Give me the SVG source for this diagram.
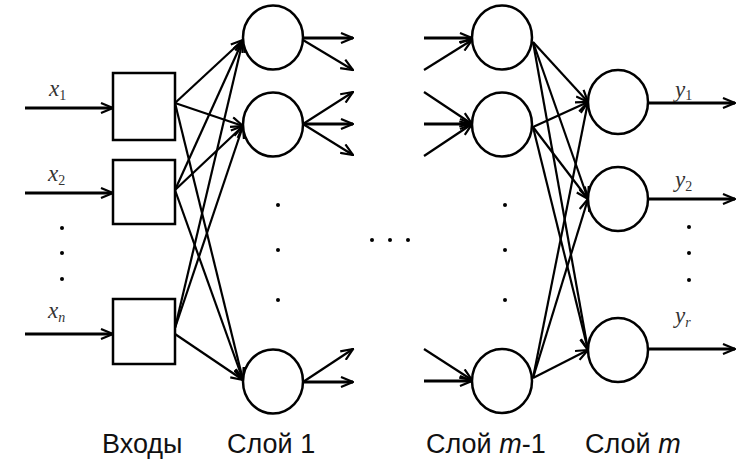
<svg xmlns="http://www.w3.org/2000/svg" width="750" height="476" viewBox="0 0 750 476">
<style>
.ln{stroke:#000;stroke-width:2.2;fill:none}
.th{stroke:#000;stroke-width:2.8;fill:none}
.nd{stroke:#000;stroke-width:2.5;fill:#fff}
.lab{font-family:"Liberation Sans",Arial,sans-serif;font-size:27px;fill:#111}
.var{font-family:"Liberation Serif","Times New Roman",serif;font-style:italic;font-size:23px;fill:#333}
.sub{font-family:"Liberation Serif","Times New Roman",serif;font-size:14px;fill:#333}
.dot{fill:#000}
</style>
<defs>
<marker id="ah" viewBox="0 0 14 12" refX="13" refY="6" markerWidth="14" markerHeight="12" markerUnits="userSpaceOnUse" orient="auto">
<path d="M1,1 L13,6 L1,11" fill="none" stroke="#000" stroke-width="2.2"/>
</marker>
</defs>
<g id="connectors">
<line class="th" x1="25" y1="108" x2="113" y2="108" marker-end="url(#ah)"/>
<line class="th" x1="25" y1="193" x2="113" y2="193" marker-end="url(#ah)"/>
<line class="th" x1="25" y1="334" x2="113" y2="334" marker-end="url(#ah)"/>
<line class="ln" x1="175" y1="103" x2="243" y2="40" marker-end="url(#ah)"/>
<line class="ln" x1="175" y1="103" x2="243" y2="126" marker-end="url(#ah)"/>
<line class="ln" x1="175" y1="103" x2="243" y2="380" marker-end="url(#ah)"/>
<line class="ln" x1="175" y1="190" x2="243" y2="40" marker-end="url(#ah)"/>
<line class="ln" x1="175" y1="190" x2="243" y2="126" marker-end="url(#ah)"/>
<line class="ln" x1="175" y1="190" x2="243" y2="380" marker-end="url(#ah)"/>
<line class="ln" x1="175" y1="328" x2="243" y2="40" marker-end="url(#ah)"/>
<line class="ln" x1="175" y1="328" x2="243" y2="126" marker-end="url(#ah)"/>
<line class="ln" x1="175" y1="334" x2="243" y2="380" marker-end="url(#ah)"/>
<line class="th" x1="303" y1="38" x2="353" y2="38" marker-end="url(#ah)"/>
<line class="ln" x1="303" y1="40" x2="353" y2="70" marker-end="url(#ah)"/>
<line class="ln" x1="303" y1="124" x2="353" y2="92" marker-end="url(#ah)"/>
<line class="th" x1="303" y1="124" x2="353" y2="124" marker-end="url(#ah)"/>
<line class="ln" x1="303" y1="124" x2="353" y2="155" marker-end="url(#ah)"/>
<line class="ln" x1="303" y1="382" x2="353" y2="349" marker-end="url(#ah)"/>
<line class="th" x1="303" y1="382" x2="353" y2="382" marker-end="url(#ah)"/>
<line class="th" x1="424" y1="38" x2="472" y2="38" marker-end="url(#ah)"/>
<line class="ln" x1="424" y1="70" x2="472" y2="40" marker-end="url(#ah)"/>
<line class="ln" x1="424" y1="92" x2="472" y2="124" marker-end="url(#ah)"/>
<line class="th" x1="424" y1="124" x2="472" y2="124" marker-end="url(#ah)"/>
<line class="ln" x1="424" y1="156" x2="472" y2="124" marker-end="url(#ah)"/>
<line class="ln" x1="424" y1="349" x2="472" y2="380" marker-end="url(#ah)"/>
<line class="th" x1="424" y1="381" x2="472" y2="381" marker-end="url(#ah)"/>
<line class="ln" x1="533" y1="42" x2="588" y2="102" marker-end="url(#ah)"/>
<line class="ln" x1="533" y1="42" x2="588" y2="199" marker-end="url(#ah)"/>
<line class="ln" x1="533" y1="42" x2="588" y2="350" marker-end="url(#ah)"/>
<line class="ln" x1="533" y1="127" x2="588" y2="102" marker-end="url(#ah)"/>
<line class="ln" x1="533" y1="127" x2="588" y2="199" marker-end="url(#ah)"/>
<line class="ln" x1="533" y1="127" x2="588" y2="350" marker-end="url(#ah)"/>
<line class="ln" x1="533" y1="378" x2="588" y2="102" marker-end="url(#ah)"/>
<line class="ln" x1="533" y1="378" x2="588" y2="199" marker-end="url(#ah)"/>
<line class="ln" x1="533" y1="378" x2="588" y2="350" marker-end="url(#ah)"/>
<line class="th" x1="648" y1="103" x2="735" y2="103" marker-end="url(#ah)"/>
<line class="th" x1="648" y1="199" x2="735" y2="199" marker-end="url(#ah)"/>
<line class="th" x1="648" y1="349" x2="735" y2="349" marker-end="url(#ah)"/>
</g>
<g id="in1"><rect class="nd" x="113" y="73" width="62" height="67"/></g>
<g id="in2"><rect class="nd" x="113" y="160" width="62" height="64"/></g>
<g id="inn"><rect class="nd" x="113" y="299" width="62" height="65"/></g>
<g id="l1n1"><ellipse class="nd" cx="273" cy="37.5" rx="30" ry="32"/></g>
<g id="l1n2"><ellipse class="nd" cx="273" cy="124.5" rx="30" ry="32"/></g>
<g id="l1n3"><ellipse class="nd" cx="273" cy="381.5" rx="30" ry="32"/></g>
<g id="lm1n1"><ellipse class="nd" cx="502" cy="37.5" rx="30" ry="32"/></g>
<g id="lm1n2"><ellipse class="nd" cx="502" cy="124.5" rx="30" ry="32"/></g>
<g id="lm1n3"><ellipse class="nd" cx="502" cy="381" rx="30" ry="32"/></g>
<g id="lmn1"><ellipse class="nd" cx="618" cy="102" rx="30" ry="32"/></g>
<g id="lmn2"><ellipse class="nd" cx="618" cy="199" rx="30" ry="32"/></g>
<g id="lmn3"><ellipse class="nd" cx="618" cy="350" rx="30" ry="32"/></g>
<g id="dots">
<circle class="dot" cx="62" cy="228" r="2"/><circle class="dot" cx="62" cy="253" r="2"/><circle class="dot" cx="62" cy="279" r="2"/>
<circle class="dot" cx="278" cy="205" r="2"/><circle class="dot" cx="278" cy="250" r="2"/><circle class="dot" cx="278" cy="300" r="2"/>
<circle class="dot" cx="505" cy="205" r="2"/><circle class="dot" cx="505" cy="250" r="2"/><circle class="dot" cx="505" cy="300" r="2"/>
<circle class="dot" cx="372" cy="240" r="2"/><circle class="dot" cx="390" cy="240" r="2"/><circle class="dot" cx="408" cy="240" r="2"/>
<circle class="dot" cx="689" cy="227" r="2"/><circle class="dot" cx="689" cy="253" r="2"/><circle class="dot" cx="689" cy="280" r="2"/>
</g>
<g id="labels">
<text class="var" x="49" y="96">x<tspan class="sub" dy="4" font-style="normal">1</tspan></text>
<text class="var" x="48" y="181">x<tspan class="sub" dy="4" font-style="normal">2</tspan></text>
<text class="var" x="48" y="318">x<tspan class="sub" dy="4">n</tspan></text>
<text class="var" x="675" y="97">y<tspan class="sub" dy="3" font-style="normal">1</tspan></text>
<text class="var" x="675" y="187">y<tspan class="sub" dy="4" font-style="normal">2</tspan></text>
<text class="var" x="675" y="323">y<tspan class="sub" dy="4">r</tspan></text>
<text class="lab" x="102" y="453">Входы</text>
<text class="lab" x="227" y="453">Слой 1</text>
<text class="lab" x="426" y="453">Слой <tspan font-style="italic">m</tspan>-1</text>
<text class="lab" x="585" y="453">Слой <tspan font-style="italic">m</tspan></text>
</g>
</svg>
